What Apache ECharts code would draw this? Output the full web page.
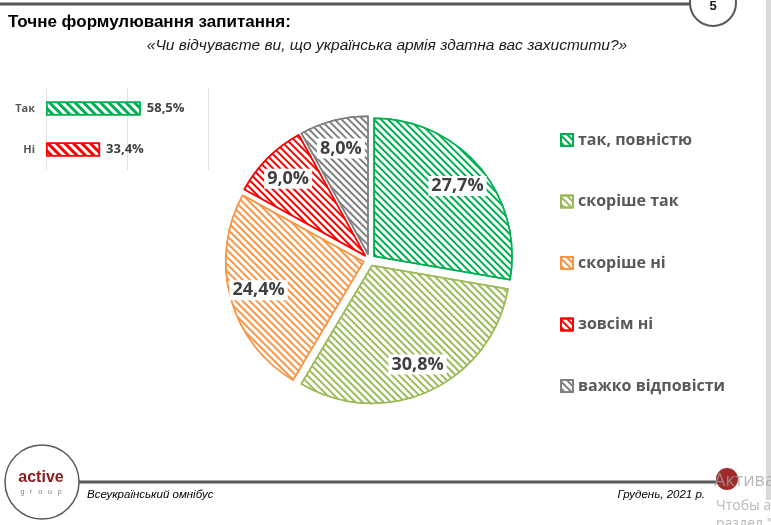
<!DOCTYPE html>
<html>
<head>
<meta charset="utf-8">
<script src="https://cdn.jsdelivr.net/npm/echarts@6/dist/echarts.min.js"></script>
<style>html,body{margin:0;padding:0;background:#fff;}#c{width:771px;height:525px;}</style>
</head>
<body>
<div id="c"></div>
<script>
const pieNames = ['так, повністю', 'скоріше так', 'скоріше ні', 'зовсім ні', 'важко відповісти'];
const pieValues = [27.7, 30.8, 24.4, 9.0, 8.0];
const pieColors = ['#00b050', '#9bbb59', '#f79646', '#ff0000', '#808080'];
const barCategories = ['Так', 'Ні'];
const barValues = [58.5, 33.4];
const barColors = ['#00b050', '#ff0000'];

const fmt = v => v.toFixed(1).replace('.', ',') + '%';
const NARROW = '"Liberation Sans", Arial, sans-serif';
const BODY = '"Open Sans", "Noto Sans", sans-serif';

function decal(color, w, g) {
  return { symbol: 'rect', symbolSize: 1, dashArrayX: [1, 0], dashArrayY: [w, g], rotation: Math.PI / 4, color: color };
}

const pieData = pieNames.map((n, i) => ({
  name: n, value: pieValues[i], selected: true,
  itemStyle: { color: '#fff', borderColor: pieColors[i], borderWidth: 1.5, decal: decal(pieColors[i], 1.8, 3) }
}));
const labelData = pieNames.map((n, i) => ({
  name: n, value: pieValues[i], selected: true,
  itemStyle: { color: 'rgba(0,0,0,0)', borderWidth: 0 }
}));

const CENTER = [369.5, 260];
const chart = echarts.init(document.getElementById('c'), null, { renderer: 'canvas' });
chart.setOption({
  animation: false,
  backgroundColor: '#fff',
  legend: {
    data: pieNames,
    orient: 'vertical',
    left: 560, top: 132, padding: 0,
    itemWidth: 12, itemHeight: 12, itemGap: 45.5, itemTextGap: 5,
    icon: 'rect',
    textStyle: { fontFamily: BODY, fontWeight: 'bold', fontSize: 16, color: '#595959', lineHeight: 16 },
    selectedMode: false
  },
  grid: { left: 46, top: 88, width: 162, height: 82 },
  xAxis: {
    type: 'value', min: 0, max: 100, interval: 50,
    axisLabel: { show: false }, axisLine: { show: false }, axisTick: { show: false },
    splitLine: { show: true, lineStyle: { color: '#e3e3e3', width: 1 } }
  },
  yAxis: {
    type: 'category', data: barCategories, inverse: true,
    axisLine: { show: false }, axisTick: { show: false },
    axisLabel: { margin: 11, fontFamily: BODY, fontWeight: 'bold', fontSize: 11, color: '#595959' }
  },
  series: [
    {
      type: 'bar', barWidth: 14,
      data: barValues.map((v, i) => ({
        value: v,
        itemStyle: { color: '#fff', borderColor: barColors[i], borderWidth: 1.5, decal: decal(barColors[i], 2.4, 2.8) }
      })),
      label: { show: true, position: 'right', distance: 6, formatter: p => fmt(p.value),
        fontFamily: BODY, fontWeight: 'bold', fontSize: 13, color: '#404040' }
    },
    {
      type: 'pie', center: CENTER, radius: [0, 138], startAngle: 90, clockwise: true,
      selectedMode: 'multiple', selectedOffset: 6,
      label: { show: false }, labelLine: { show: false },
      emphasis: { disabled: true },
      data: pieData
    },
    {
      type: 'pie', center: CENTER, radius: [74, 138], startAngle: 90, clockwise: true,
      selectedMode: 'multiple', selectedOffset: 6, silent: true, legendHoverLink: false,
      label: { show: true, position: 'inside', formatter: p => fmt(p.value),
        fontFamily: BODY, fontWeight: 'bold', fontSize: 18, color: '#404040',
        backgroundColor: '#fff', padding: [1, 3] },
      labelLine: { show: false },
      emphasis: { disabled: true },
      data: labelData
    }
  ],
  graphic: [
    { type: 'rect', shape: { x: 766, y: 0, width: 5, height: 500 }, style: { fill: '#d9d9d9' } },
    { type: 'line', shape: { x1: 0, y1: 4, x2: 695, y2: 4 }, style: { stroke: '#595959', lineWidth: 3 } },
    { type: 'circle', shape: { cx: 713, cy: 3, r: 23 }, style: { fill: '#fff', stroke: '#595959', lineWidth: 2 } },
    { type: 'text', x: 713, y: 6, style: { text: '5', font: 'bold 13px "Liberation Sans", Arial', fill: '#1a1a1a', align: 'center', verticalAlign: 'middle' } },
    { type: 'text', x: 8, y: 22, style: { text: 'Точне формулювання запитання:', font: 'bold 17px ' + NARROW, fill: '#000', verticalAlign: 'middle' } },
    { type: 'text', x: 387, y: 46, style: { text: '«Чи відчуваєте ви, що українська армія здатна вас захистити?»', font: 'italic 15.5px ' + NARROW, fill: '#1a1a1a', align: 'center', verticalAlign: 'middle' } },
    { type: 'line', shape: { x1: 78, y1: 482, x2: 727, y2: 482 }, style: { stroke: '#595959', lineWidth: 3 } },
    { type: 'circle', shape: { cx: 42, cy: 482, r: 37 }, style: { fill: '#fff', stroke: '#595959', lineWidth: 1.5 } },
    { type: 'text', x: 41, y: 478, style: { text: 'active', font: 'bold 16px ' + NARROW, fill: '#8b1a1a', align: 'center', verticalAlign: 'middle' } },
    { type: 'text', x: 41, y: 492, style: { text: 'g   r   o   u   p', font: '7px ' + NARROW, fill: '#7f7f7f', align: 'center', verticalAlign: 'middle' } },
    { type: 'text', x: 87, y: 495, style: { text: 'Всеукраїнський омнібус', font: 'italic 11.5px ' + NARROW, fill: '#000', verticalAlign: 'middle' } },
    { type: 'text', x: 705, y: 495, style: { text: 'Грудень, 2021 р.', font: 'italic 11.5px ' + NARROW, fill: '#000', align: 'right', verticalAlign: 'middle' } },
    { type: 'circle', shape: { cx: 727, cy: 479, r: 11 }, style: { fill: '#a02b2b' } },
    { type: 'text', x: 714, y: 481, style: { text: 'Активация Windows', font: '18px "Open Sans", sans-serif', fill: 'rgba(160,160,160,0.75)', verticalAlign: 'middle' } },
    { type: 'text', x: 716, y: 506, style: { text: 'Чтобы активировать Windows, перейдите в', font: '14px "Open Sans", sans-serif', fill: 'rgba(160,160,160,0.75)', verticalAlign: 'middle' } },
    { type: 'text', x: 716, y: 524, style: { text: 'раздел "Параметры".', font: '14px "Open Sans", sans-serif', fill: 'rgba(160,160,160,0.75)', verticalAlign: 'middle' } }
  ]
});
</script>
</body>
</html>
